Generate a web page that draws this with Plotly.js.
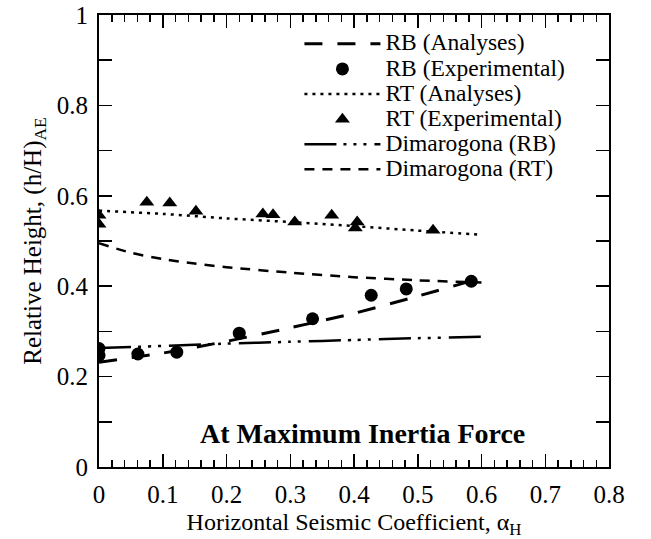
<!DOCTYPE html>
<html>
<head>
<meta charset="utf-8">
<script src="https://cdn.plot.ly/plotly-3.0.1.min.js"></script>
<style>html,body{margin:0;padding:0;background:#fff;}#chart{width:651px;height:539px;}</style>
</head>
<body>
<div id="chart"></div>
<script>
// ---- data ----
const seriesNames = ['RB (Analyses)', 'RB (Experimental)', 'RT (Analyses)', 'RT (Experimental)', 'Dimarogona (RB)', 'Dimarogona (RT)'];

const rbAnaX = [0, 0.1, 0.2, 0.3, 0.4, 0.5, 0.58];
const rbAnaY = [0.232, 0.252, 0.278, 0.308, 0.34, 0.378, 0.41];

const rbExpX = [0, 0, 0.061, 0.122, 0.22, 0.335, 0.427, 0.482, 0.584];
const rbExpY = [0.262, 0.247, 0.25, 0.254, 0.296, 0.328, 0.38, 0.394, 0.411];

const rtAnaX = [0, 0.1, 0.2, 0.3, 0.4, 0.5, 0.6];
const rtAnaY = [0.567, 0.56, 0.55, 0.542, 0.533, 0.523, 0.514];

const rtExpX = [0, 0, 0.075, 0.111, 0.152, 0.257, 0.273, 0.307, 0.365, 0.402, 0.405, 0.524];
const rtExpY = [0.557, 0.537, 0.586, 0.584, 0.566, 0.56, 0.558, 0.542, 0.557, 0.529, 0.542, 0.524];

const dimRbX = [0, 0.1, 0.2, 0.3, 0.4, 0.5, 0.6];
const dimRbY = [0.263, 0.268, 0.273, 0.277, 0.281, 0.285, 0.288];

const dimRtX = [0, 0.05, 0.1, 0.15, 0.2, 0.3, 0.4, 0.5, 0.6];
const dimRtY = [0.495, 0.474, 0.46, 0.45, 0.442, 0.43, 0.42, 0.413, 0.408];

const xTickVals = [0, 0.1, 0.2, 0.3, 0.4, 0.5, 0.6, 0.7, 0.8];
const xTickText = ['0', '0.1', '0.2', '0.3', '0.4', '0.5', '0.6', '0.7', '0.8'];
const yTickVals = [0, 0.2, 0.4, 0.6, 0.8, 1];
const yTickText = ['0', '0.2', '0.4', '0.6', '0.8', '1'];

const xTitle = 'Horizontal Seismic Coefficient, α<sub>H</sub>';
const yTitle = 'Relative Height, (h/H)<sub>AE</sub>';
const noteText = '<b>At Maximum Inertia Force</b>';

// ---- chart ----
const FONT = 'Liberation Serif';
const nm = s => '<span style="font-size:23.5px">' + s + '</span>';

const traces = [
  {x: rbAnaX, y: rbAnaY, mode: 'lines', name: nm(seriesNames[0]),
   line: {color: '#000', width: 3, dash: '18px,15px', shape: 'spline', smoothing: 0.6}},
  {x: rbExpX, y: rbExpY, mode: 'markers', name: nm(seriesNames[1]),
   marker: {symbol: 'circle', size: 13, color: '#000'}},
  {x: rtAnaX, y: rtAnaY, mode: 'lines', name: nm(seriesNames[2]),
   line: {color: '#000', width: 2.5, dash: '3px,5px', shape: 'spline', smoothing: 0.6}},
  {x: rtExpX, y: rtExpY, mode: 'markers', name: nm(seriesNames[3]),
   marker: {symbol: 'triangle-up', size: 13, color: '#000'}},
  {x: dimRbX, y: dimRbY, mode: 'lines', name: nm(seriesNames[4]),
   line: {color: '#000', width: 2.5, dash: '32px,7px,3px,7px,3px,7px,3px,8px', shape: 'spline', smoothing: 0.6}},
  {x: dimRtX, y: dimRtY, mode: 'lines', name: nm(seriesNames[5]),
   line: {color: '#000', width: 2.5, dash: '10px,8px', shape: 'spline', smoothing: 0.8}}
];

const axisCommon = {
  showline: true, linecolor: '#000', linewidth: 2, mirror: 'allticks',
  ticks: 'inside', ticklen: 13, tickwidth: 1.5, tickcolor: '#000',
  showgrid: false, zeroline: false,
  tickfont: {family: FONT, size: 25, color: '#000'},
  ticklabelstandoff: 4
};

const layout = {
  width: 651, height: 539,
  margin: {l: 99, r: 42, t: 15, b: 72},
  paper_bgcolor: '#fff', plot_bgcolor: '#fff',
  font: {family: FONT, color: '#000'},
  showlegend: true,
  legend: {
    x: 0.393, y: 0.975, xanchor: 'left', yanchor: 'top',
    bgcolor: 'rgba(0,0,0,0)', borderwidth: 0,
    font: {family: FONT, size: 17, color: '#000'},
    itemwidth: 76, tracegroupgap: 0
  },
  xaxis: Object.assign({}, axisCommon, {
    range: [0, 0.8], tickmode: 'array', tickvals: xTickVals, ticktext: xTickText,
    minor: {tickmode: 'linear', tick0: 0, dtick: 0.02, ticks: 'inside', ticklen: 7, tickwidth: 1.5, tickcolor: '#000'},
    title: {text: xTitle, font: {family: FONT, size: 24, color: '#000'}, standoff: 6}
  }),
  yaxis: Object.assign({}, axisCommon, {
    range: [0, 1], tickmode: 'array', tickvals: yTickVals, ticktext: yTickText,
    minor: {tickmode: 'linear', tick0: 0, dtick: 0.1, ticks: 'inside', ticklen: 13, tickwidth: 1.5, tickcolor: '#000'},
    title: {text: yTitle, font: {family: FONT, size: 25, color: '#000'}, standoff: 8}
  }),
  annotations: [{
    text: noteText, xref: 'paper', yref: 'paper', x: 0.516, y: 0.075,
    xanchor: 'center', yanchor: 'middle', showarrow: false,
    font: {family: FONT, size: 28, color: '#000'}
  }]
};

Plotly.newPlot('chart', traces, layout, {displayModeBar: false, staticPlot: true});
</script>
</body>
</html>
